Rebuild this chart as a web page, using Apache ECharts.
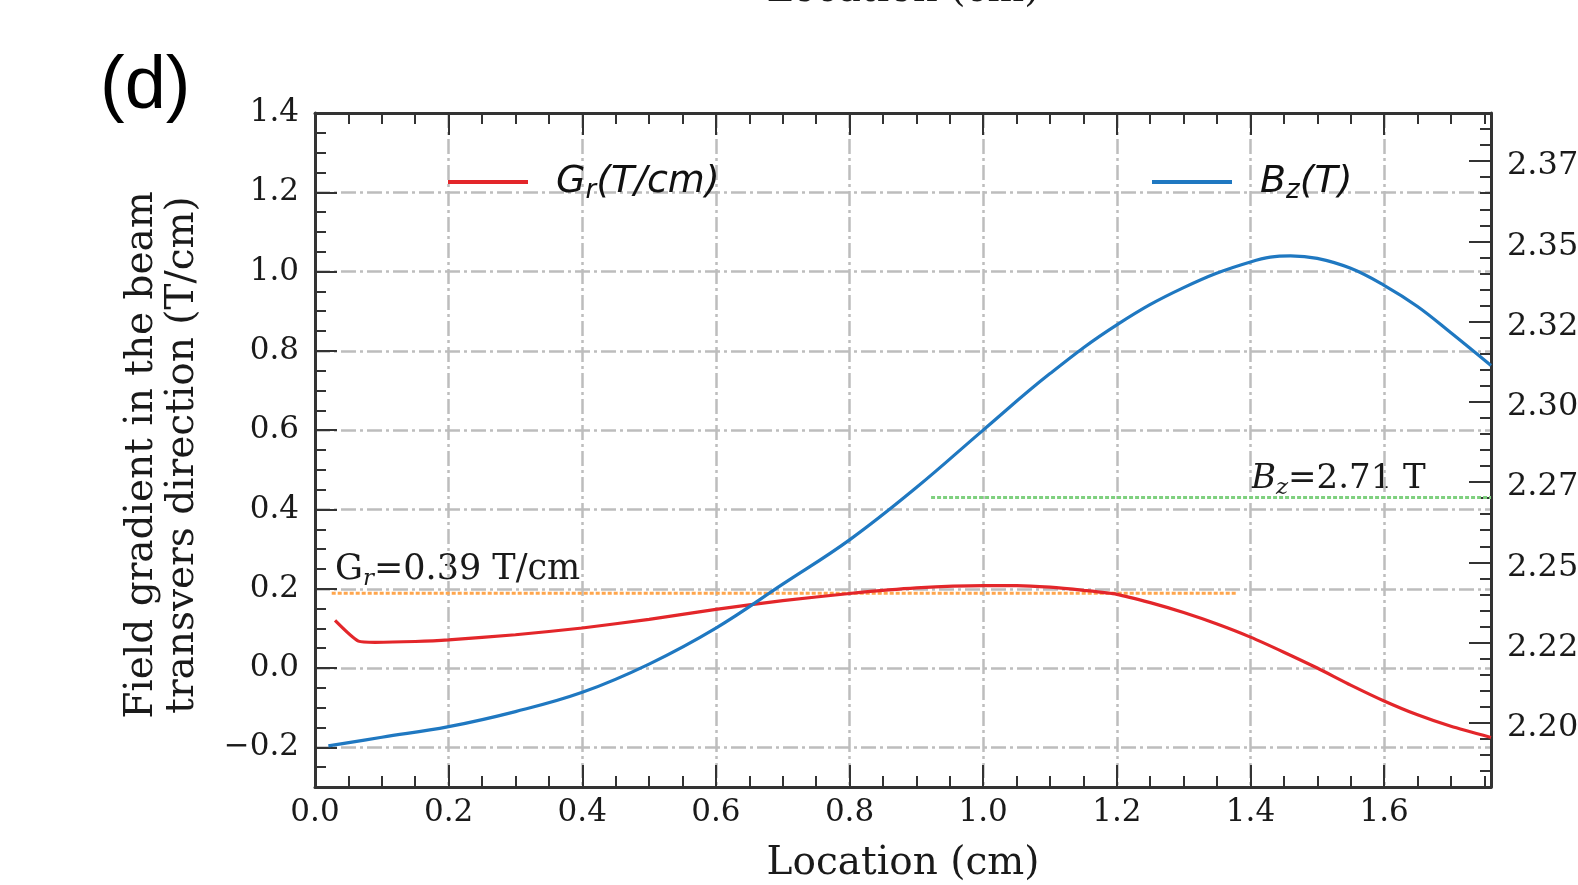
<!DOCTYPE html>
<html>
<head>
<meta charset="utf-8">
<script src="https://cdn.jsdelivr.net/npm/echarts@6/dist/echarts.min.js"></script>
<style>
html,body{margin:0;padding:0;background:#fff;}
#c{width:1578px;height:885px;}
</style>
</head>
<body>
<div id="c"></div>
<script>
// ---- data ----
const grX = [0.030,0.065,0.09,0.15,0.20,0.30,0.40,0.50,0.60,0.70,0.80,0.90,1.00,1.05,1.10,1.15,1.20,1.25,1.30,1.35,1.40,1.45,1.50,1.55,1.60,1.65,1.70,1.76];
const grY = [0.120,0.068,0.065,0.067,0.071,0.084,0.101,0.123,0.148,0.170,0.188,0.202,0.208,0.208,0.204,0.196,0.186,0.165,0.140,0.111,0.078,0.040,0.000,-0.043,-0.083,-0.118,-0.147,-0.175];
const bzX = [0.02,0.10,0.20,0.30,0.40,0.50,0.60,0.70,0.80,0.90,1.00,1.10,1.20,1.30,1.40,1.46,1.50,1.55,1.60,1.65,1.70,1.76];
const bzY = [2.1928,2.1955,2.1988,2.2035,2.2095,2.2183,2.2295,2.2432,2.2570,2.2733,2.2912,2.3088,2.3240,2.3356,2.3436,2.3455,2.3447,2.3416,2.3363,2.3297,2.3215,2.3113];
const grRefX = [0.025, 1.38];
const grRefY = [0.189, 0.189];
const bzRefX = [0.922, 1.76];
const bzRefY = [2.2702, 2.2702];

const xTicks = [0,0.2,0.4,0.6,0.8,1.0,1.2,1.4,1.6];
const xTickLabels = ['0.0','0.2','0.4','0.6','0.8','1.0','1.2','1.4','1.6'];
const yLeftTicks = [-0.2,0,0.2,0.4,0.6,0.8,1.0,1.2,1.4];
const yLeftLabels = ['\u22120.2','0.0','0.2','0.4','0.6','0.8','1.0','1.2','1.4'];
const yRightTicks = [2.2,2.225,2.25,2.275,2.3,2.325,2.35,2.375];
const yRightLabels = ['2.20','2.22','2.25','2.27','2.30','2.32','2.35','2.37'];

const X_MIN = 0, X_MAX = 1.76, YL_MIN = -0.3, YL_MAX = 1.4, YR_MIN = 2.18, YR_MAX = 2.39;

function minorValues(min, max, step, majors) {
  const out = [];
  const n0 = Math.ceil(min / step - 1e-9), n1 = Math.floor(max / step + 1e-9);
  for (let k = n0; k <= n1; k++) {
    const v = +(k * step).toFixed(6);
    if (!majors.some(m => Math.abs(m - v) < 1e-6)) out.push(v);
  }
  return out;
}
const xMinor = minorValues(X_MIN, X_MAX, 0.05, xTicks);
const ylMinor = minorValues(YL_MIN, YL_MAX, 0.05, yLeftTicks);
const yrMinor = minorValues(YR_MIN, YR_MAX, 0.005, yRightTicks);

function labelFor(ticks, labels, wrap) {
  return function (v) {
    let best = 0, bd = Infinity;
    ticks.forEach((t, i) => { const d = Math.abs(t - v); if (d < bd) { bd = d; best = i; } });
    return wrap ? '{v|' + labels[best] + '}' : labels[best];
  };
}
const zip = (a, b) => a.map((v, i) => [v, b[i]]);

const AX = '#333';
const tickFont = { fontFamily: 'DejaVu Serif', fontSize: 31, color: '#1a1a1a' };
const gridDash = { color: '#bdbdbd', width: 2.5, type: [15, 4, 3, 4] };

function majorAxis(extra) { return Object.assign({
  type: 'value', axisLine: { show: true, onZero: false, lineStyle: { color: AX, width: 3 } },
  axisTick: { show: true, inside: true, length: 22, lineStyle: { color: AX, width: 2 } },
  splitLine: { show: false }, minorTick: { show: false }
}, extra); }
function minorAxis(extra) { return Object.assign({
  type: 'value', axisLine: { show: false, onZero: false },
  axisTick: { show: true, inside: true, length: 11, lineStyle: { color: AX, width: 2 } },
  axisLabel: { show: false }, splitLine: { show: false }
}, extra); }

const legendRich = {
  i: { fontFamily: 'DejaVu Sans', fontStyle: 'italic', fontSize: 38, lineHeight: 44, color: '#111' },
  s: { fontFamily: 'DejaVu Sans', fontStyle: 'italic', fontSize: 26, lineHeight: 24, verticalAlign: 'bottom', color: '#111' }
};

const chart = echarts.init(document.getElementById('c'), null, { renderer: 'canvas' });
chart.setOption({
  backgroundColor: '#fff',
  animation: false,
  grid: { left: 315, right: 87, top: 113, bottom: 98, containLabel: false, outerBoundsMode: 'none' },
  xAxis: [
    majorAxis({ position: 'bottom', min: X_MIN, max: X_MAX,
      axisTick: { show: true, inside: true, length: 22, lineStyle: { color: AX, width: 2 }, customValues: xTicks },
      axisLabel: Object.assign({ customValues: xTicks, margin: 10, formatter: labelFor(xTicks, xTickLabels) }, tickFont),
      splitLine: { show: true, lineStyle: gridDash },
      name: 'Location (cm)', nameLocation: 'middle', nameGap: 57,
      nameTextStyle: { fontFamily: 'DejaVu Serif', fontSize: 39, color: '#1a1a1a' } }),
    minorAxis({ position: 'bottom', min: X_MIN, max: X_MAX,
      axisTick: { show: true, inside: true, length: 11, lineStyle: { color: AX, width: 2 }, customValues: xMinor } }),
    majorAxis({ position: 'top', min: X_MIN, max: X_MAX,
      axisTick: { show: true, inside: true, length: 22, lineStyle: { color: AX, width: 2 }, customValues: xTicks },
      axisLabel: { show: false } }),
    minorAxis({ position: 'top', min: X_MIN, max: X_MAX,
      axisTick: { show: true, inside: true, length: 11, lineStyle: { color: AX, width: 2 }, customValues: xMinor } })
  ],
  yAxis: [
    majorAxis({ position: 'left', min: YL_MIN, max: YL_MAX,
      axisTick: { show: true, inside: true, length: 22, lineStyle: { color: AX, width: 2 }, customValues: yLeftTicks },
      axisLabel: Object.assign({ customValues: yLeftTicks, margin: 16, formatter: labelFor(yLeftTicks, yLeftLabels) }, tickFont),
      splitLine: { show: true, lineStyle: gridDash } }),
    minorAxis({ position: 'left', min: YL_MIN, max: YL_MAX,
      axisTick: { show: true, inside: true, length: 11, lineStyle: { color: AX, width: 2 }, customValues: ylMinor } }),
    majorAxis({ position: 'right', min: YR_MIN, max: YR_MAX,
      axisTick: { show: true, inside: true, length: 22, lineStyle: { color: AX, width: 2 }, customValues: yRightTicks },
      axisLabel: Object.assign({ customValues: yRightTicks, margin: 16,
        formatter: labelFor(yRightTicks, yRightLabels, true),
        rich: { v: { fontFamily: 'DejaVu Serif', fontSize: 32, color: '#1a1a1a', padding: [10, 0, 0, 0] } } }, tickFont, { fontSize: 32 }) }),
    minorAxis({ position: 'right', min: YR_MIN, max: YR_MAX,
      axisTick: { show: true, inside: true, length: 11, lineStyle: { color: AX, width: 2 }, customValues: yrMinor } })
  ],
  legend: [
    { data: ['Gr'], left: 448, top: 163, padding: 0, itemWidth: 80, itemHeight: 4, icon: 'rect',
      formatter: () => '{i|G}{s|r}{i|(T/cm)}',
      textStyle: { padding: [0, 0, 0, 23], rich: legendRich } },
    { data: ['Bz'], left: 1152, top: 163, padding: 0, itemWidth: 80, itemHeight: 4, icon: 'rect',
      formatter: () => '{i|B}{s|z}{i|(T)}',
      textStyle: { padding: [0, 0, 0, 23], rich: legendRich } }
  ],
  series: [
    { name: 'Gr', type: 'line', xAxisIndex: 0, yAxisIndex: 0, data: zip(grX, grY), showSymbol: false, symbol: 'none',
      smooth: 0.2, lineStyle: { color: '#e3262a', width: 3.2 }, itemStyle: { color: '#e3262a' }, z: 5 },
    { name: 'Bz', type: 'line', xAxisIndex: 0, yAxisIndex: 2, data: zip(bzX, bzY), showSymbol: false, symbol: 'none',
      smooth: 0.4, lineStyle: { color: '#1f78c1', width: 3.2 }, itemStyle: { color: '#1f78c1' }, z: 5 },
    { name: 'GrRef', type: 'line', xAxisIndex: 0, yAxisIndex: 0, data: zip(grRefX, grRefY), symbol: 'none',
      lineStyle: { color: '#ffa64d', width: 3, type: [4, 2] }, z: 4 },
    { name: 'BzRef', type: 'line', xAxisIndex: 0, yAxisIndex: 2, data: zip(bzRefX, bzRefY), symbol: 'none',
      lineStyle: { color: '#7fd07f', width: 3, type: [4, 2] }, z: 4 }
  ],
  graphic: [
    { type: 'text', left: 100, top: 51, style: { text: '(d)', font: '74px "Liberation Sans"', fill: '#000' } },
    { type: 'text', x: 903, y: -9, style: { text: 'Location (cm)', font: '39px "DejaVu Serif"', fill: '#1a1a1a', align: 'center', verticalAlign: 'middle' } },
    { type: 'text', x: 162, y: 455, rotation: Math.PI / 2,
      style: { text: 'Field gradient in the beam\ntransvers direction (T/cm)', font: '39px "DejaVu Serif"', lineHeight: 41,
        fill: '#1a1a1a', align: 'center', verticalAlign: 'middle' } },
    { type: 'text', x: 335, y: 570, style: { text: '{a|G}{b|r}{a|=0.39 T/cm}', verticalAlign: 'middle', align: 'left',
      rich: { a: { fontFamily: 'DejaVu Serif', fontSize: 35, lineHeight: 42, fill: '#1a1a1a' },
              b: { fontFamily: 'DejaVu Serif', fontStyle: 'italic', fontSize: 23, lineHeight: 22, verticalAlign: 'bottom', fill: '#1a1a1a' } } } },
    { type: 'text', x: 1251, y: 479, style: { text: '{ai|B}{b|z}{a|=2.71 T}', verticalAlign: 'middle', align: 'left',
      rich: { a: { fontFamily: 'DejaVu Serif', fontSize: 34, lineHeight: 42, fill: '#1a1a1a' },
              ai: { fontFamily: 'DejaVu Serif', fontStyle: 'italic', fontSize: 34, lineHeight: 42, fill: '#1a1a1a' },
              b: { fontFamily: 'DejaVu Serif', fontStyle: 'italic', fontSize: 23, lineHeight: 22, verticalAlign: 'bottom', fill: '#1a1a1a' } } } }
  ]
});
</script>
</body>
</html>
